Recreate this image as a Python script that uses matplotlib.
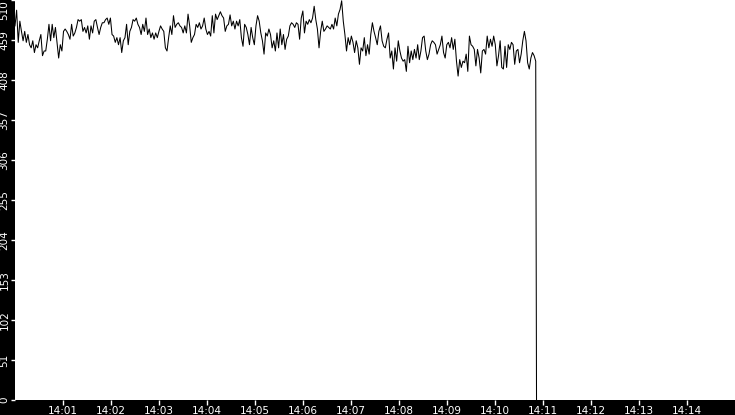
import datetime as dt
import numpy as np
import matplotlib
matplotlib.use("Agg")
import matplotlib.pyplot as plt
import matplotlib.dates as mdates

# readings sampled roughly every 2 s, 14:00:00 -> 14:10:51
seg_1 = [477, 497, 456, 483, 470, 458, 470, 456, 466, 453, 449, 458, 443, 453, 449, 458,
         466, 439, 445, 445, 460, 479, 458, 479, 462, 475, 456, 436, 453, 445, 470, 473,
         470, 466, 460, 479, 464, 468, 475, 485, 483, 485, 470, 475, 468, 477, 460, 477,
         468, 483, 485, 475, 466, 475, 481, 481, 485, 487, 479, 487, 466, 464, 456, 462,
         453, 462, 443, 458, 462, 479, 453, 470, 475, 485, 483, 487, 479, 475, 466, 479,
         470, 487]
seg_2 = [466, 473, 462, 468, 460, 468, 462, 470, 477, 473, 470, 449, 445, 462, 477, 466,
         490, 475, 479, 481, 477, 475, 468, 477, 468, 492, 477, 456, 462, 466, 479, 475,
         481, 473, 477, 487, 473, 466, 470, 464, 490, 468, 492, 485, 490, 495, 490, 487,
         470, 477, 479, 491, 477, 483, 473, 483, 477, 485, 462, 451, 479, 475, 466, 453,
         475, 462, 453, 477, 490, 483, 468, 458, 441, 468, 464, 473, 466, 449, 458, 445]
seg_3 = [468, 449, 473, 453, 466, 447, 460, 464, 477, 481, 479, 475, 481, 479, 460, 487,
         496, 468, 483, 479, 485, 481, 487, 502, 485, 473, 449, 470, 483, 470, 473, 477,
         475, 473, 479, 473, 487, 477, 492, 498, 509, 483, 466, 445, 462, 453, 464, 456,
         443, 458, 449, 428, 449, 445, 462, 439, 453, 441, 466, 481, 470, 462, 453, 470,
         477, 458, 451, 449, 460, 468, 436, 445, 422, 449, 432, 458, 445, 436, 432, 434,
         419, 451]
seg_4 = [430, 445, 434, 447, 436, 453, 434, 445, 462, 464, 445, 434, 441, 453, 458, 456,
         453, 441, 447, 453, 464, 443, 436, 453, 456, 449, 462, 447, 460, 432, 413, 434,
         424, 432, 430, 441, 419, 464, 453, 451, 447, 426, 447, 436, 417, 445, 447, 441,
         464, 449, 460, 451, 464, 453, 426, 439, 458, 424, 422, 451, 424, 453, 447, 456,
         453, 428, 445, 447, 430, 441, 458, 470, 458, 430, 422, 436, 443, 439, 432]
drop_seconds = [651.4, 651.9]
drop_values = [211, 0]

y_ticks = [0, 51, 102, 153, 204, 255, 306, 357, 408, 459, 510]

values = np.array(seg_1 + seg_2 + seg_3 + seg_4 + drop_values, dtype=float)
n_main = len(seg_1) + len(seg_2) + len(seg_3) + len(seg_4)
seconds = np.concatenate([np.linspace(0, 650.9, n_main), drop_seconds])

t0 = dt.datetime(2000, 1, 1, 14, 0, 0)
times = [t0 + dt.timedelta(seconds=float(s)) for s in seconds]

fig = plt.figure(figsize=(7.35, 4.15), dpi=100, facecolor="black")
ax = fig.add_axes([15 / 735, 15 / 415, 720 / 735, 400 / 415])
ax.set_facecolor("white")

ax.plot(times, values, color="black", linewidth=0.75)

ax.set_xlim(t0, t0 + dt.timedelta(minutes=15))
ax.set_ylim(0, 510)
ax.set_xticks([t0 + dt.timedelta(minutes=m) for m in range(1, 15)])
ax.xaxis.set_major_formatter(mdates.DateFormatter("%H:%M"))
ax.set_yticks(y_ticks)
ax.set_yticklabels([str(v) for v in y_ticks], rotation=90, va="center")
# top label would run off the figure, push it down like the original
ax.get_yticklabels()[-1].set_va("top")

ax.tick_params(axis="both", colors="white", labelsize=7.5, direction="out")
ax.tick_params(axis="x", length=3.6, width=1, pad=1)
ax.tick_params(axis="y", length=3, width=1, pad=1)
for s in ax.spines.values():
    s.set_visible(False)

fig.savefig("out.png", dpi=100, facecolor="black")
